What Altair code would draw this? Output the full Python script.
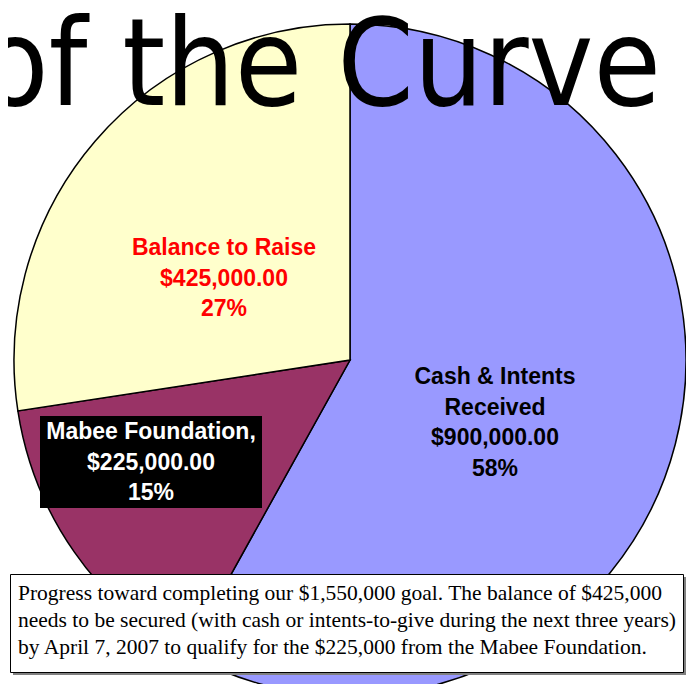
import altair as alt
import pandas as pd

# ---- data ----
categories = ["Cash & Intents Received", "Mabee Foundation", "Balance to Raise"]
label_names = ["Cash & Intents\nReceived", "Mabee Foundation,", "Balance to Raise"]
amounts = [900000, 225000, 425000]
percents = [58, 15, 27]
slice_colors = ["#9999FF", "#993366", "#FFFFCC"]
title_text = "of the Curve"
note_lines = [
    "Progress toward completing our $1,550,000 goal. The balance of $425,000",
    "needs to be secured (with cash or intents-to-give during the next three years)",
    "by April 7, 2007 to qualify for the $225,000 from the Mabee Foundation.",
]

df = pd.DataFrame({
    "category": categories,
    "name": label_names,
    "amount": amounts,
    "pct": percents,
    "order": list(range(len(categories))),
})
df["label"] = (df["name"] + "\n$" + df["amount"].map(lambda v: f"{v:,.2f}")
               + "\n" + df["pct"].astype(str) + "%")

W, H = 678, 676
CX, CY, R = 342, 352, 336

base = alt.Chart(df)

pie = base.mark_arc(radius=R, stroke="black", strokeWidth=1.5).encode(
    theta=alt.Theta("amount:Q", stack=True),
    color=alt.Color("category:N",
                    scale=alt.Scale(domain=categories, range=slice_colors),
                    legend=None),
    order=alt.Order("order:Q"),
    x=alt.value(CX),
    y=alt.value(CY),
)

title = alt.Chart(pd.DataFrame({"t": [title_text]})).mark_text(
    font="DejaVu Sans Condensed, DejaVu Sans, sans-serif",
    fontSize=122, align="right", baseline="alphabetic", color="black",
).encode(text="t:N", x=alt.value(653), y=alt.value(97))

label_font = "Liberation Sans, Arial, sans-serif"

def label_layer(cat, x, y, color):
    return base.transform_filter(alt.datum.category == cat).mark_text(
        font=label_font, fontSize=23, fontWeight="bold", align="center",
        baseline="middle", lineBreak="\n", lineHeight=30.5, color=color,
    ).encode(text="label:N", x=alt.value(x), y=alt.value(y))

cash_label = label_layer("Cash & Intents Received", 487, 369, "black")
bal_label = label_layer("Balance to Raise", 216, 240, "#FF0000")

mabee_box = base.transform_filter(alt.datum.category == "Mabee Foundation").mark_rect(
    color="black"
).encode(x=alt.value(32), x2=alt.value(254), y=alt.value(408), y2=alt.value(500))
mabee_label = label_layer("Mabee Foundation", 143, 424, "white")

note_df = pd.DataFrame({"note": ["\n".join(note_lines)]})
note_shadow = alt.Chart(note_df).mark_rect(color="#808080").encode(
    x=alt.value(5), x2=alt.value(678), y=alt.value(569), y2=alt.value(667))
note_box = alt.Chart(note_df).mark_rect(fill="white", stroke="black", strokeWidth=1).encode(
    x=alt.value(2.5), x2=alt.value(675.5), y=alt.value(566.5), y2=alt.value(664.5))
note_text = alt.Chart(note_df).mark_text(
    font="Liberation Serif, Times New Roman, serif", fontSize=21.5, align="left",
    baseline="alphabetic", lineBreak="\n", lineHeight=27, color="black",
).encode(text="note:N", x=alt.value(10), y=alt.value(592))

chart = alt.layer(
    pie, title, cash_label, bal_label, mabee_box, mabee_label,
    note_shadow, note_box, note_text,
).properties(
    width=W, height=H, padding=0, autosize=alt.AutoSizeParams(type="none"),
    background="white",
).configure_view(stroke=None)

chart.save("out.html", embed_options={"renderer": "svg", "actions": False})
